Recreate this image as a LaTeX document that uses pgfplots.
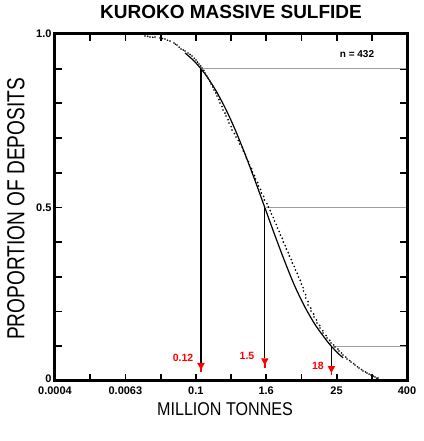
\documentclass[border=0pt]{standalone}
\usepackage{fontspec}
\setmainfont{Liberation Sans}
\usepackage{graphicx}
\usepackage{pgfplots}
\pgfplotsset{compat=1.18}

\begin{document}
\begin{tikzpicture}
\path[use as bounding box] (0,0) rectangle (423pt,441pt);
\begin{axis}[
    at={(55pt,60pt)}, anchor=south west,
    scale only axis, width=352pt, height=347pt,
    xmode=log, xmin=0.000398107, xmax=398.107, ymin=0, ymax=1,
    xtick={0.000398107,0.00158489,0.00630957,0.0251189,0.1,0.398107,1.58489,6.30957,25.1189,100,398.107},
    xticklabels={\textbf{0.0004},,\textbf{0.0063},,\textbf{0.1},,\textbf{1.6},,\textbf{25},,\textbf{400}},
    ytick={0,0.1,0.2,0.3,0.4,0.5,0.6,0.7,0.8,0.9,1},
    yticklabels={\raisebox{4pt}{\textbf{0}},,,,,\textbf{0.5},,,,,\textbf{1.0}},
    xminorticks=false, yminorticks=false,
    tick align=inside, major tick length=7pt,
    tick style={black, line width=1.8pt},
    axis line style={line width=3pt},
    ticklabel style={font=\fontsize{11}{12}\selectfont},
    xticklabel style={yshift=-2pt},
    title={KUROKO MASSIVE SULFIDE},
    title style={at={(0.5,1.045)}, anchor=center, inner sep=0pt, font=\bfseries\fontsize{19}{20}\selectfont},
    xlabel={\scalebox{1}[1.15]{MILLION TONNES}},
    xlabel style={at={(0.483,-0.081)}, anchor=center, inner sep=0pt, font=\fontsize{16.1}{17}\selectfont},
    ylabel={\scalebox{1}[1.29]{PROPORTION OF DEPOSITS}},
    ylabel style={at={(-0.111,0.496)}, anchor=center, inner sep=0pt, font=\fontsize{19.1}{20}\selectfont},
    clip=false]

% deposits (cumulative proportion)
\addplot[only marks, mark=*, mark size=0.65pt, mark options={draw=none, fill=gray!60}] coordinates {
(0.0136,0.9942) (0.0166,0.9913) (0.0202,0.9913) (0.0246,0.9885) (0.0299,0.9856) (0.0363,0.9798) (0.0425,0.974) (0.0478,0.9683) (0.056,0.9568) (0.0655,0.951) (0.0736,0.9452) (0.0861,0.9366) (0.1007,0.9251) (0.1134,0.9135) (0.1276,0.902) (0.1436,0.8876) (0.1614,0.8732) (0.1816,0.8559) (0.2042,0.8386) (0.2296,0.8213) (0.2585,0.8011) (0.2911,0.781) (0.3273,0.7637) (0.3681,0.7435) (0.414,0.7233) (0.484,0.7032) (0.560,0.683) (0.648,0.6628) (0.729,0.6426) (0.821,0.6225) (0.923,0.6023) (1.039,0.5821) (1.168,0.562) (1.313,0.5418) (1.477,0.5216) (1.727,0.5014) (1.947,0.4813) (2.19,0.4611) (2.463,0.4409) (2.77,0.4207) (3.114,0.4006) (3.502,0.3804) (3.939,0.3602) (4.43,0.3401) (4.991,0.3199) (5.616,0.2997) (6.315,0.2795) (6.84,0.2594) (7.48,0.2392) (8.166,0.219) (9.204,0.2017) (10.35,0.1844) (11.64,0.1671) (13.09,0.1527) (14.72,0.1383) (17.22,0.1239) (20.14,0.1095) (23.6,0.098) (27.61,0.0865) (32.28,0.0749) (37.76,0.0634) (44.16,0.0548) (51.76,0.0461) (60.53,0.0375) (70.79,0.0288) (82.79,0.0231) (96.83,0.0173) (113.2,0.0115) (127.5,0.0086)};
\addplot[only marks, mark=*, mark size=0.65pt, mark options={draw=none, fill=gray!50}] coordinates {
(0.0152,0.9935) (0.0185,0.9905) (0.027,0.987) (0.033,0.982) (0.045,0.9705) (0.052,0.962) (0.061,0.954) (0.08,0.941) (0.094,0.930) (0.107,0.919) (0.121,0.908) (0.137,0.895) (0.153,0.880) (0.173,0.864) (0.195,0.847) (0.22,0.830) (0.248,0.811) (0.28,0.791) (0.315,0.772) (0.355,0.753) (0.4,0.733) (0.455,0.713) (0.53,0.693) (0.62,0.673) (0.70,0.653) (0.79,0.632) (0.89,0.612) (1.0,0.592) (1.13,0.572) (1.27,0.552) (1.43,0.532) (1.63,0.511) (1.86,0.491) (2.09,0.471) (2.35,0.451) (2.64,0.431) (2.97,0.411) (3.34,0.39) (3.76,0.37) (4.23,0.35) (4.76,0.33) (5.36,0.31) (6.03,0.29) (6.75,0.269) (7.45,0.249) (8.2,0.229) (9.1,0.21) (10.2,0.193) (11.4,0.176) (12.9,0.16) (14.6,0.145) (16.6,0.131) (19.2,0.117) (22.4,0.104) (26.5,0.092) (30.5,0.081) (36,0.069) (42,0.059) (49,0.05) (57,0.041) (67,0.033) (78,0.026) (90,0.02) (106,0.014) (122,0.008)};

% fitted curve
\addplot[black, line width=1.2pt, smooth] coordinates {
(0.0658,0.9452) (0.0971,0.9192) (0.1436,0.8849) (0.2123,0.8413) (0.3141,0.7881) (0.4645,0.7257) (0.6855,0.6554) (1.014,0.5793) (1.5,0.5) (2.218,0.4207) (3.281,0.3446) (4.842,0.2743) (7.31,0.2119) (11.17,0.1587) (17.26,0.1151) (20.5,0.1) (26.2,0.0808) (32.4,0.0668)};

% 90th, 50th and 10th percentiles
\draw[gray!75, line width=0.9pt] (axis cs:0.1225,0.9) -- (axis cs:398.107,0.9);
\draw[gray!75, line width=0.9pt] (axis cs:1.5,0.5) -- (axis cs:398.107,0.5);
\draw[gray!75, line width=0.9pt] (axis cs:20.5,0.1) -- (axis cs:398.107,0.1);

\draw[black, line width=1.1pt] (axis cs:0.1225,0.9) -- (axis cs:0.1225,0.052);
\draw[black, line width=1.1pt] (axis cs:1.5,0.5) -- (axis cs:1.5,0.0654);
\draw[black, line width=1.1pt] (axis cs:20.5,0.1) -- (axis cs:20.5,0.0432);

\fill[red] ([xshift=-3.8pt]axis cs:0.1225,0.052) -- ([xshift=3.8pt]axis cs:0.1225,0.052) -- (axis cs:0.1225,0.032) -- cycle;
\draw[red, line width=1.5pt] (axis cs:0.1225,0.04) -- (axis cs:0.1225,0.026);
\fill[red] ([xshift=-3.8pt]axis cs:1.5,0.0654) -- ([xshift=3.8pt]axis cs:1.5,0.0654) -- (axis cs:1.5,0.0454) -- cycle;
\draw[red, line width=1.5pt] (axis cs:1.5,0.054) -- (axis cs:1.5,0.037);
\fill[red] ([xshift=-3.8pt]axis cs:20.5,0.0432) -- ([xshift=3.8pt]axis cs:20.5,0.0432) -- (axis cs:20.5,0.0232) -- cycle;
\draw[red, line width=1.5pt] (axis cs:20.5,0.032) -- (axis cs:20.5,0.017);

\node[red, font=\bfseries\fontsize{10.5}{11}\selectfont, inner sep=0pt] at (axis cs:0.0605,0.0663) {0.12};
\node[red, font=\bfseries\fontsize{10.5}{11}\selectfont, inner sep=0pt] at (axis cs:0.746,0.0735) {1.5};
\node[red, font=\bfseries\fontsize{10.5}{11}\selectfont, inner sep=0pt] at (axis cs:12.1,0.0447) {18};

\node[font=\bfseries\fontsize{10}{11}\selectfont, inner sep=0pt] at (axis cs:56,0.942) {n = 432};

% heavy frame
\draw[black, line width=3pt] (rel axis cs:0,0) rectangle (rel axis cs:1,1);
\end{axis}
\end{tikzpicture}
\end{document}
